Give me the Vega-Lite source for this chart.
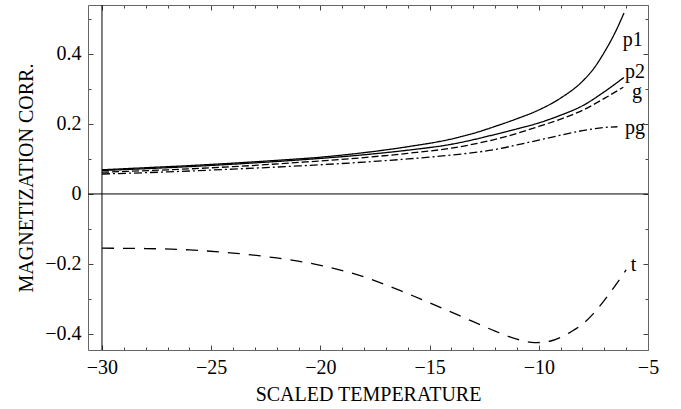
{
  "$schema": "https://vega.github.io/schema/vega-lite/v6.json",
  "width": 560,
  "height": 345,
  "autosize": {"type": "none"},
  "padding": {"left": 88, "top": 5, "right": 33, "bottom": 59},
  "background": "white",
  "config": {
    "view": {"stroke": null},
    "font": "Liberation Serif",
    "axis": {
      "domainColor": "#666",
      "domainWidth": 1,
      "tickColor": "#444",
      "tickWidth": 1,
      "grid": false,
      "labelFont": "Liberation Serif",
      "labelFontSize": 20,
      "labelColor": "black",
      "titleFont": "Liberation Serif",
      "titleFontSize": 20,
      "titleFontWeight": "normal",
      "titleColor": "black"
    }
  },
  "datasets": {
    "curves": [
      {"s": "p1", "x": -30, "y": 0.069}, {"s": "p1", "x": -28, "y": 0.075}, {"s": "p1", "x": -26, "y": 0.081}, {"s": "p1", "x": -24, "y": 0.088}, {"s": "p1", "x": -22, "y": 0.096}, {"s": "p1", "x": -20, "y": 0.105}, {"s": "p1", "x": -18, "y": 0.118}, {"s": "p1", "x": -16, "y": 0.135}, {"s": "p1", "x": -14, "y": 0.157}, {"s": "p1", "x": -13, "y": 0.173}, {"s": "p1", "x": -12, "y": 0.193}, {"s": "p1", "x": -11, "y": 0.215}, {"s": "p1", "x": -10, "y": 0.240}, {"s": "p1", "x": -9, "y": 0.274}, {"s": "p1", "x": -8, "y": 0.322}, {"s": "p1", "x": -7.5, "y": 0.357}, {"s": "p1", "x": -7, "y": 0.405}, {"s": "p1", "x": -6.5, "y": 0.462}, {"s": "p1", "x": -6.1, "y": 0.517},
      {"s": "p2", "x": -30, "y": 0.067}, {"s": "p2", "x": -27, "y": 0.075}, {"s": "p2", "x": -24, "y": 0.085}, {"s": "p2", "x": -21, "y": 0.097}, {"s": "p2", "x": -18, "y": 0.112}, {"s": "p2", "x": -16, "y": 0.125}, {"s": "p2", "x": -14, "y": 0.142}, {"s": "p2", "x": -12, "y": 0.170}, {"s": "p2", "x": -11, "y": 0.186}, {"s": "p2", "x": -10, "y": 0.203}, {"s": "p2", "x": -9, "y": 0.225}, {"s": "p2", "x": -8, "y": 0.252}, {"s": "p2", "x": -7, "y": 0.292}, {"s": "p2", "x": -6.1, "y": 0.333},
      {"s": "g", "x": -30, "y": 0.062}, {"s": "g", "x": -27, "y": 0.069}, {"s": "g", "x": -24, "y": 0.078}, {"s": "g", "x": -21, "y": 0.090}, {"s": "g", "x": -18, "y": 0.104}, {"s": "g", "x": -16, "y": 0.116}, {"s": "g", "x": -14, "y": 0.131}, {"s": "g", "x": -12, "y": 0.156}, {"s": "g", "x": -11, "y": 0.173}, {"s": "g", "x": -10, "y": 0.193}, {"s": "g", "x": -9, "y": 0.214}, {"s": "g", "x": -8, "y": 0.239}, {"s": "g", "x": -7, "y": 0.273}, {"s": "g", "x": -6.13, "y": 0.305},
      {"s": "pg", "x": -30, "y": 0.057}, {"s": "pg", "x": -27, "y": 0.063}, {"s": "pg", "x": -24, "y": 0.071}, {"s": "pg", "x": -21, "y": 0.080}, {"s": "pg", "x": -18, "y": 0.091}, {"s": "pg", "x": -16, "y": 0.100}, {"s": "pg", "x": -14, "y": 0.111}, {"s": "pg", "x": -13, "y": 0.118}, {"s": "pg", "x": -12, "y": 0.127}, {"s": "pg", "x": -11, "y": 0.140}, {"s": "pg", "x": -10, "y": 0.154}, {"s": "pg", "x": -9, "y": 0.168}, {"s": "pg", "x": -8, "y": 0.181}, {"s": "pg", "x": -7, "y": 0.190}, {"s": "pg", "x": -6.4, "y": 0.192},
      {"s": "t", "x": -30, "y": -0.155}, {"s": "t", "x": -28, "y": -0.156}, {"s": "t", "x": -26, "y": -0.160}, {"s": "t", "x": -24, "y": -0.169}, {"s": "t", "x": -22, "y": -0.183}, {"s": "t", "x": -20, "y": -0.204}, {"s": "t", "x": -18, "y": -0.237}, {"s": "t", "x": -16, "y": -0.285}, {"s": "t", "x": -14, "y": -0.338}, {"s": "t", "x": -13, "y": -0.365}, {"s": "t", "x": -12, "y": -0.392}, {"s": "t", "x": -11, "y": -0.415}, {"s": "t", "x": -10.2, "y": -0.425}, {"s": "t", "x": -9.5, "y": -0.421}, {"s": "t", "x": -9, "y": -0.410}, {"s": "t", "x": -8.5, "y": -0.393}, {"s": "t", "x": -8, "y": -0.372}, {"s": "t", "x": -7.5, "y": -0.342}, {"s": "t", "x": -7, "y": -0.304}, {"s": "t", "x": -6.5, "y": -0.262}, {"s": "t", "x": -6, "y": -0.217}
    ],
    "labels": [
      {"s": "p1", "x": -5.7, "y": 0.44},
      {"s": "p2", "x": -5.6, "y": 0.349},
      {"s": "g", "x": -5.5, "y": 0.291},
      {"s": "pg", "x": -5.6, "y": 0.189},
      {"s": "t", "x": -5.66, "y": -0.203}
    ]
  },
  "resolve": {"axis": {"x": "independent", "y": "independent"}},
  "layer": [
    {
      "data": {"name": "curves"},
      "mark": {"type": "line", "strokeWidth": 1.3, "color": "black", "interpolate": "monotone"},
      "encoding": {
        "x": {
          "field": "x", "type": "quantitative",
          "scale": {"domain": [-30.64, -5], "nice": false, "zero": false},
          "axis": {
            "orient": "bottom",
            "title": "SCALED TEMPERATURE",
            "titleX": 280, "titleY": 44, "titleBaseline": "middle",
            "values": [-30, -29, -28, -27, -26, -25, -24, -23, -22, -21, -20, -19, -18, -17, -16, -15, -14, -13, -12, -11, -10, -9, -8, -7, -6, -5],
            "format": "d",
            "labelExpr": "datum.value % 5 === 0 ? datum.label : ''",
            "tickSize": {"condition": {"test": "datum.value % 5 === 0", "value": -5}, "value": -3},
            "labelPadding": 12,
            "labelFlush": false,
            "labelOverlap": false
          }
        },
        "y": {
          "field": "y", "type": "quantitative",
          "scale": {"domain": [-0.446, 0.54], "nice": false, "zero": false},
          "axis": {
            "orient": "left",
            "title": "MAGNETIZATION CORR.",
            "titleX": -62, "titleY": 172.5, "titleAngle": -90, "titleBaseline": "middle", "titleAlign": "center",
            "values": [-0.4, -0.3, -0.2, -0.1, 0, 0.1, 0.2, 0.3, 0.4, 0.5],
            "labelExpr": "abs(round(datum.value*10)) % 2 === 0 ? (datum.value === 0 ? '0' : format(datum.value, '.1f')) : ''",
            "tickSize": {"condition": {"test": "abs(round(datum.value*10)) % 2 === 0", "value": -5}, "value": -3},
            "labelPadding": 12,
            "labelFlush": false,
            "labelOverlap": false
          }
        },
        "detail": {"field": "s"},
        "strokeDash": {
          "field": "s", "type": "nominal", "legend": null,
          "scale": {"domain": ["p1", "p2", "g", "pg", "t"], "range": [[1, 0], [1, 0], [7, 3], [8, 3, 2, 3], [12, 9]]}
        }
      }
    },
    {
      "data": {"values": [{"x0": -30, "y0": 0}]},
      "layer": [
        {"mark": {"type": "rule", "color": "black", "strokeWidth": 1}, "encoding": {"x": {"field": "x0", "type": "quantitative", "scale": {"domain": [-30.64, -5], "nice": false, "zero": false}, "axis": null}}},
        {"mark": {"type": "rule", "color": "black", "strokeWidth": 1}, "encoding": {"y": {"field": "y0", "type": "quantitative", "scale": {"domain": [-0.446, 0.54], "nice": false, "zero": false}, "axis": null}}}
      ]
    },
    {
      "data": {"name": "labels"},
      "mark": {"type": "text", "font": "Liberation Serif", "fontSize": 20, "color": "black", "align": "center", "baseline": "middle"},
      "encoding": {
        "x": {
          "field": "x", "type": "quantitative",
          "scale": {"domain": [-30.64, -5], "nice": false, "zero": false},
          "axis": {
            "orient": "top", "title": null, "labels": false,
            "values": [-30, -29, -28, -27, -26, -25, -24, -23, -22, -21, -20, -19, -18, -17, -16, -15, -14, -13, -12, -11, -10, -9, -8, -7, -6, -5],
            "tickSize": {"condition": {"test": "datum.value % 5 === 0", "value": -5}, "value": -3}
          }
        },
        "y": {
          "field": "y", "type": "quantitative",
          "scale": {"domain": [-0.446, 0.54], "nice": false, "zero": false},
          "axis": {
            "orient": "right", "title": null, "labels": false,
            "values": [-0.4, -0.3, -0.2, -0.1, 0, 0.1, 0.2, 0.3, 0.4, 0.5],
            "tickSize": {"condition": {"test": "abs(round(datum.value*10)) % 2 === 0", "value": -5}, "value": -3}
          }
        },
        "text": {"field": "s"}
      }
    }
  ]
}
